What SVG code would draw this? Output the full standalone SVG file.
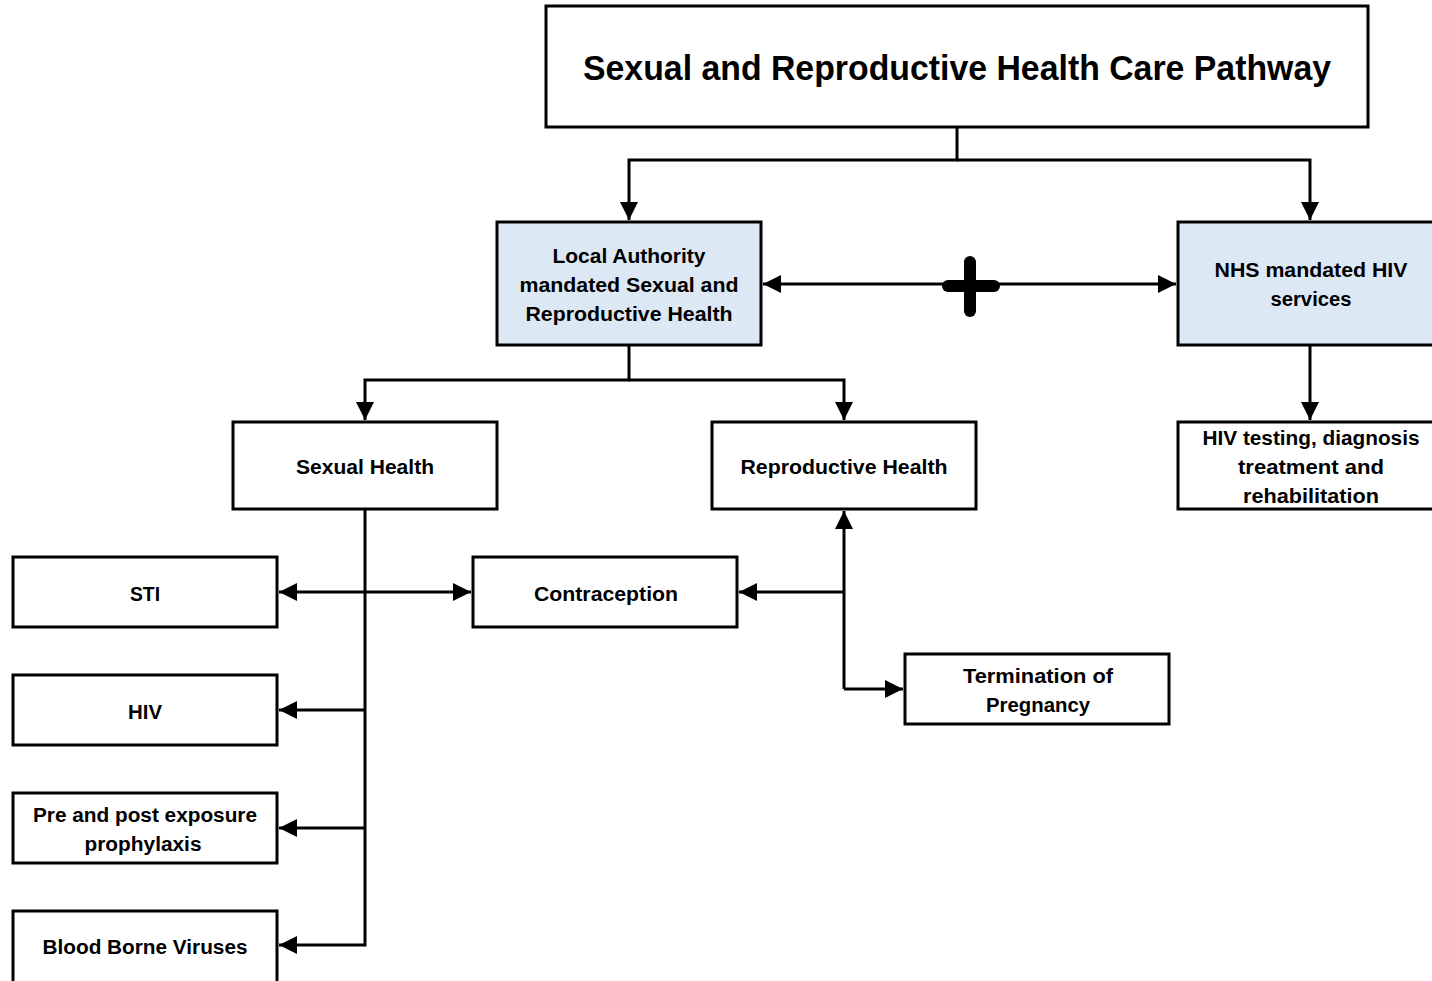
<svg xmlns="http://www.w3.org/2000/svg" width="1432" height="981" viewBox="0 0 1432 981">
<style>
.box{fill:#ffffff;stroke:#000;stroke-width:3}
.blue{fill:#dde8f5;stroke:#000;stroke-width:3}
.t{font-family:"Liberation Sans",Arial,sans-serif;font-weight:bold;font-size:20px;fill:#000;text-anchor:middle}
.title{font-family:"Liberation Sans",Arial,sans-serif;font-weight:bold;font-size:35px;fill:#000;text-anchor:middle}
.c{fill:none;stroke:#000;stroke-width:3}
</style>
<defs>
<marker id="ah" markerUnits="userSpaceOnUse" markerWidth="20" markerHeight="20" viewBox="0 0 20 20" refX="19" refY="10" orient="auto-start-reverse">
<path d="M1,1 L19,10 L1,19 Z" fill="#000"/>
</marker>
</defs>
<rect width="1432" height="981" fill="#fff"/>
<g id="connectors">
<path class="c" d="M957,127 V160 H629 V220" marker-end="url(#ah)"/>
<path class="c" d="M957,160 H1310 V220" marker-end="url(#ah)"/>
<path class="c" d="M763,284 H1176" marker-start="url(#ah)" marker-end="url(#ah)"/>
<path class="c" d="M629,345 V380 H365 V420" marker-end="url(#ah)"/>
<path class="c" d="M629,380 H844 V420" marker-end="url(#ah)"/>
<path class="c" d="M1310,345 V420" marker-end="url(#ah)"/>
<path class="c" d="M365,509 V945 H279" marker-end="url(#ah)"/>
<path class="c" d="M279,592 H471" marker-start="url(#ah)" marker-end="url(#ah)"/>
<path class="c" d="M365,710 H279" marker-end="url(#ah)"/>
<path class="c" d="M365,828 H279" marker-end="url(#ah)"/>
<path class="c" d="M844,689 V511" marker-end="url(#ah)"/>
<path class="c" d="M844,592 H739" marker-end="url(#ah)"/>
<path class="c" d="M844,689 H903" marker-end="url(#ah)"/>
<g id="plus">
<line x1="970" y1="262" x2="970" y2="311" stroke="#000" stroke-width="12" stroke-linecap="round"/>
<line x1="948" y1="286" x2="994" y2="286" stroke="#000" stroke-width="12" stroke-linecap="round"/>
</g>
</g>
<g id="title">
<rect class="box" x="546" y="6" width="822" height="121"/>
<text class="title" x="957" y="80" textLength="748" lengthAdjust="spacingAndGlyphs">Sexual and Reproductive Health Care Pathway</text>
</g>
<g id="local-authority">
<rect class="blue" x="497" y="222" width="264" height="123"/>
<text class="t" x="629" y="263" textLength="153" lengthAdjust="spacingAndGlyphs">Local Authority</text>
<text class="t" x="629" y="292" textLength="219" lengthAdjust="spacingAndGlyphs">mandated Sexual and</text>
<text class="t" x="629" y="321" textLength="207" lengthAdjust="spacingAndGlyphs">Reproductive Health</text>
</g>
<g id="nhs">
<rect class="blue" x="1178" y="222" width="260" height="123"/>
<text class="t" x="1311" y="277" textLength="193" lengthAdjust="spacingAndGlyphs">NHS mandated HIV</text>
<text class="t" x="1311" y="306" textLength="81" lengthAdjust="spacingAndGlyphs">services</text>
</g>
<g id="sexual-health">
<rect class="box" x="233" y="422" width="264" height="87"/>
<text class="t" x="365" y="474" textLength="138" lengthAdjust="spacingAndGlyphs">Sexual Health</text>
</g>
<g id="reproductive-health">
<rect class="box" x="712" y="422" width="264" height="87"/>
<text class="t" x="844" y="474" textLength="207" lengthAdjust="spacingAndGlyphs">Reproductive Health</text>
</g>
<g id="hiv-testing">
<rect class="box" x="1178" y="422" width="260" height="87"/>
<text class="t" x="1311" y="445" textLength="217" lengthAdjust="spacingAndGlyphs">HIV testing, diagnosis</text>
<text class="t" x="1311" y="474" textLength="146" lengthAdjust="spacingAndGlyphs">treatment and</text>
<text class="t" x="1311" y="503" textLength="136" lengthAdjust="spacingAndGlyphs">rehabilitation</text>
</g>
<g id="sti">
<rect class="box" x="13" y="557" width="264" height="70"/>
<text class="t" x="145" y="601" textLength="30" lengthAdjust="spacingAndGlyphs">STI</text>
</g>
<g id="contraception">
<rect class="box" x="473" y="557" width="264" height="70"/>
<text class="t" x="606" y="601" textLength="144" lengthAdjust="spacingAndGlyphs">Contraception</text>
</g>
<g id="hiv">
<rect class="box" x="13" y="675" width="264" height="70"/>
<text class="t" x="145" y="719" textLength="34" lengthAdjust="spacingAndGlyphs">HIV</text>
</g>
<g id="pep">
<rect class="box" x="13" y="793" width="264" height="70"/>
<text class="t" x="145" y="822" textLength="224" lengthAdjust="spacingAndGlyphs">Pre and post exposure</text>
<text class="t" x="143" y="851" textLength="117" lengthAdjust="spacingAndGlyphs">prophylaxis</text>
</g>
<g id="bbv">
<rect class="box" x="13" y="911" width="264" height="72"/>
<text class="t" x="145" y="954" textLength="205" lengthAdjust="spacingAndGlyphs">Blood Borne Viruses</text>
</g>
<g id="termination">
<rect class="box" x="905" y="654" width="264" height="70"/>
<text class="t" x="1038" y="683" textLength="150" lengthAdjust="spacingAndGlyphs">Termination of</text>
<text class="t" x="1038" y="712" textLength="104" lengthAdjust="spacingAndGlyphs">Pregnancy</text>
</g>
</svg>
